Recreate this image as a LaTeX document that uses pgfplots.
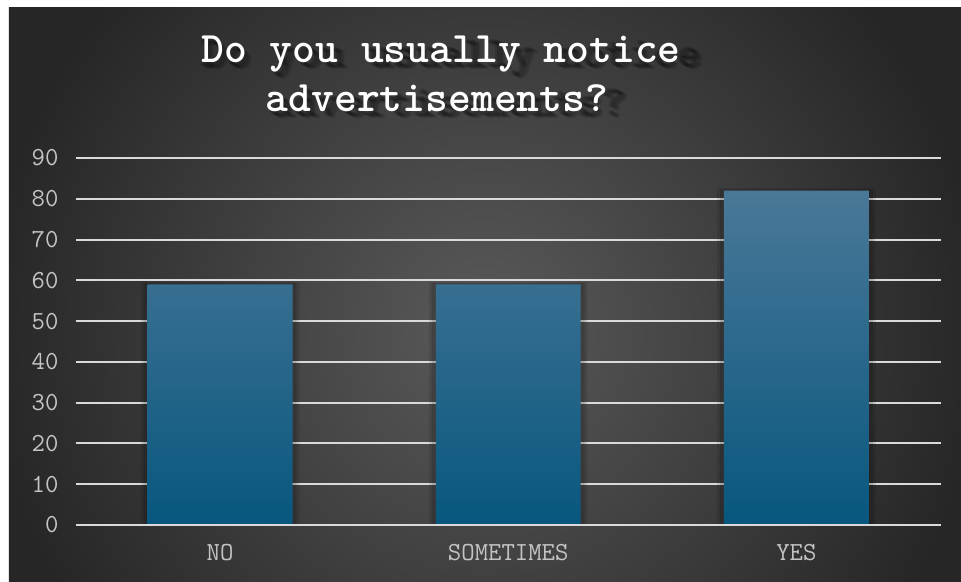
\documentclass[border=0pt]{standalone}
\usepackage{pgfplots}
\pgfplotsset{compat=1.18}
\usepackage{fontspec}
\definecolor{bgin}{HTML}{5A5A5A}
\definecolor{bgout}{HTML}{262626}
\definecolor{bartop}{HTML}{4A7898}
\definecolor{barbot}{HTML}{08577E}
\definecolor{gridc}{HTML}{DADADA}
\definecolor{tickc}{HTML}{C4C4C4}
\newcommand{\titlefont}{\ttfamily\bfseries\fontsize{43.5}{48}\selectfont}
\begin{document}
\begin{tikzpicture}
\fill[white] (-76pt,-56pt) rectangle (885pt,525pt);
\begin{scope}
\clip (-67pt,-56pt) rectangle (885pt,517pt);
\shade[inner color=bgin, outer color=bgout] (-91pt,-305pt) rectangle (909pt,695pt);
\end{scope}
% title shadow
\foreach \dx/\dy/\op in {9/-4/0.16, 11/-5/0.16, 13/-6/0.16, 15/-7/0.12}{
  \node[anchor=base, text=black, opacity=\op, xscale=1.04, font=\titlefont] at (365pt+\dx pt,462pt+\dy pt) {Do you usually notice};
  \node[anchor=base, text=black, opacity=\op, xscale=1.04, font=\titlefont] at (361pt+\dx pt,413.5pt+\dy pt) {advertisements?};
}
\node[anchor=base, text=white, font=\titlefont] at (365pt,462pt) {Do you usually notice};
\node[anchor=base, text=white, font=\titlefont] at (361pt,413.5pt) {advertisements?};
\begin{axis}[
  at={(0pt,0pt)}, anchor=south west,
  scale only axis, width=864.5pt, height=367pt,
  xmin=-0.5, xmax=2.5, ymin=0, ymax=90,
  axis line style={draw=none},
  major tick length=0pt,
  xtick={0,1,2}, xticklabels={NO,SOMETIMES,YES},
  ytick={0,10,...,90},
  ymajorgrids, grid style={gridc, line width=2pt},
  tick label style={text=tickc, font=\ttfamily\fontsize{26}{30}\selectfont},
  yticklabel style={xshift=-14pt},
  xticklabel style={yshift=-16pt},
  /pgf/number format/assume math mode=true,
  clip=false,
]
\addplot[ybar, bar width=0.55, bar shift=0pt, fill=black, fill opacity=0.10, draw=none] coordinates {(0,59.6) (1,59.6) (2,82.6)};
\addplot[ybar, bar width=0.53, bar shift=0pt, fill=black, fill opacity=0.12, draw=none] coordinates {(0,59.3) (1,59.3) (2,82.3)};
\addplot[ybar, bar width=0.503, bar shift=0pt, draw=none, top color=bartop, bottom color=barbot] coordinates {(0,59) (1,59) (2,82)};
\draw[gridc, line width=2pt] (axis cs:-0.5,0) -- (axis cs:2.5,0);
\end{axis}
\end{tikzpicture}
\end{document}
